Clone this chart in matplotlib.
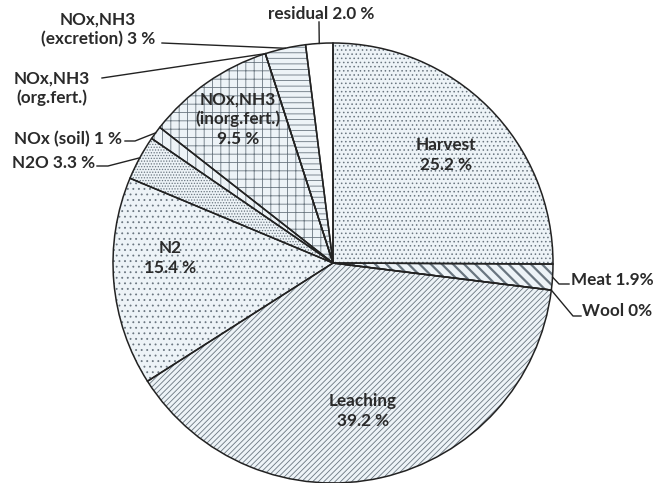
import matplotlib
matplotlib.use("Agg")
import matplotlib.pyplot as plt
import numpy as np

# slice data, clockwise from 12 o'clock
names   = ["Harvest", "Meat", "Wool", "Leaching", "N2", "N2O", "NOx (soil)",
           "NOx,NH3 (inorg.fert.)", "NOx,NH3 (org.fert.)", "NOx,NH3 (excretion)", "residual"]
values  = [25.2, 1.9, 0.0, 39.2, 15.4, 3.3, 1.0, 9.5, 0.0, 3.0, 2.0]
hatches = ["....", "\\\\\\", "", "//////", "...", "......", "||", "++", "", "---", ""]
labels_in  = {"Harvest": "Harvest\n25.2 %", "Leaching": "Leaching\n39.2 %",
              "N2": "N2\n15.4 %", "NOx,NH3 (inorg.fert.)": "NOx,NH3\n(inorg.fert.)\n9.5 %"}
labels_out = {"residual": "residual 2.0 %", "NOx,NH3 (excretion)": "NOx,NH3\n(excretion) 3 %",
              "NOx,NH3 (org.fert.)": "NOx,NH3\n(org.fert.)", "NOx (soil)": "NOx (soil) 1 %",
              "N2O": "N2O 3.3 %", "Meat": "Meat 1.9%", "Wool": "Wool 0%"}

W, H = 655, 483
plt.rcParams["font.family"] = ["Lato", "DejaVu Sans"]
fig = plt.figure(figsize=(W / 100, H / 100), dpi=100)
ax = fig.add_axes([0, 0, 1, 1])

cx, cy, R = 333, H - 263, 220
face = "#edf3f7"
wedges, _ = ax.pie(values, startangle=90, counterclock=False, radius=R, center=(cx, cy),
                   colors=[face] * len(values), wedgeprops=dict(linewidth=0, edgecolor="#6a7680"),
                   frame=True)
for w, h, n in zip(wedges, hatches, names):
    w.set_hatch(h)
    if n == "residual":
        w.set_facecolor("white")
    if hasattr(w, "set_hatch_linewidth"):
        w.set_hatch_linewidth(1.6 if n == "Meat" else 0.6)
ax.pie(values, startangle=90, counterclock=False, radius=R, center=(cx, cy),
       colors=["none"] * len(values), wedgeprops=dict(linewidth=1.1, edgecolor="#222222"),
       frame=True)
ax.set_xlim(0, W); ax.set_ylim(0, H); ax.set_aspect("equal"); ax.axis("off")

txt = dict(fontsize=12.3, fontweight="bold", color="#2a2a2a", ha="center", va="center",
           linespacing=1.25)

def edge_pt(w, frac=0.5, r=R):
    a = np.deg2rad(w.theta1 + (w.theta2 - w.theta1) * frac)
    return cx + r * np.cos(a), cy + r * np.sin(a)

# inside labels (image pixel positions)
in_pos = {"Harvest": (446, 155), "Leaching": (363, 411), "N2": (170, 258),
          "NOx,NH3 (inorg.fert.)": (238, 119)}
for n, s in labels_in.items():
    x, y = in_pos[n]
    ax.text(x, H - y, s, **txt)

# outside labels: text position, alignment, leader start, elbow
out_cfg = {
    "residual":            ((321, 14), "center", None, (319, 22)),
    "NOx,NH3 (excretion)": ((98, 29), "center", (162, 43), None),
    "NOx,NH3 (org.fert.)": ((52, 88), "center", (102, 78), None),
    "NOx (soil)":          ((68, 139), "center", (125, 141), (135, 141)),
    "N2O":                 ((54, 163), "center", (97, 166), (108, 166)),
    "Meat":                ((571, 280), "left", (569, 284), (559, 284)),
    "Wool":                ((582, 311), "left", (581, 316), (573, 316)),
}
for n, s in labels_out.items():
    (tx, ty), ha, start, elbow = out_cfg[n]
    ax.text(tx, H - ty, s, **{**txt, "ha": ha})
    w = wedges[names.index(n)]
    ex, ey = edge_pt(w)
    pts = []
    if start is not None:
        pts.append((start[0], H - start[1]))
    if elbow is not None:
        pts.append((elbow[0], H - elbow[1]))
    pts.append((ex, ey))
    xs, ys = zip(*pts)
    ax.plot(xs, ys, color="#222222", lw=1.0)

fig.savefig("out.png", dpi=100)
